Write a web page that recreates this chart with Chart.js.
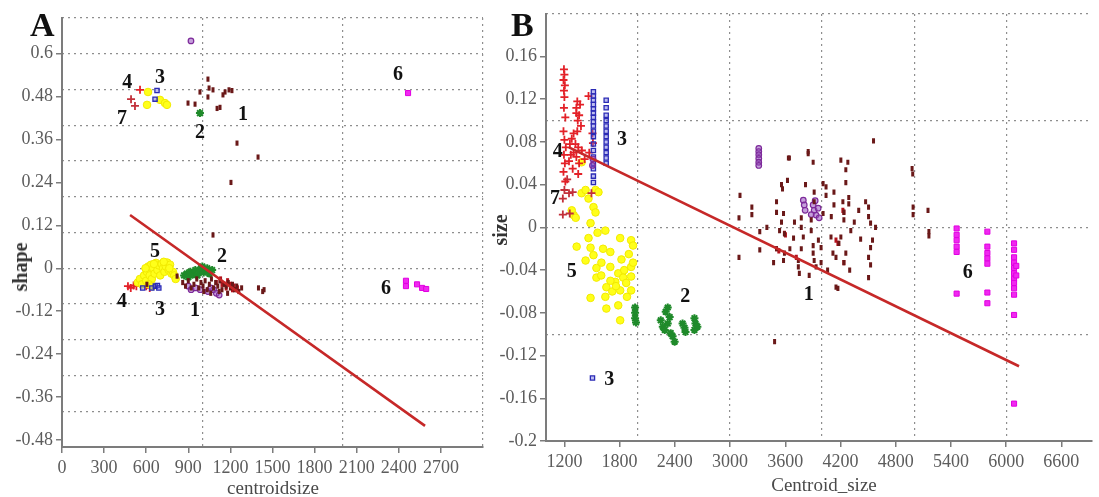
<!DOCTYPE html>
<html>
<head>
<meta charset="utf-8">
<script src="https://cdn.jsdelivr.net/npm/chart.js@4.4.1/dist/chart.umd.min.js"></script>
<style>
  html, body { margin: 0; padding: 0; background: #fff; width: 1099px; height: 497px; overflow: hidden; }
  #wrap { position: relative; width: 1099px; height: 497px; }
  canvas { position: absolute; top: 0; }
  #cA { left: 0; }
  #cB { left: 490px; }
  .t { position: absolute; font-family: "Liberation Serif", "Times New Roman", serif; white-space: nowrap; line-height: 1; }
  .panel { font-weight: bold; font-size: 34px; color: #111; }
  .xt { font-size: 19px; color: #4a4a4a; transform: translate(-50%, -50%); }
  .yt { font-size: 20px; font-weight: bold; color: #333; transform: translate(-50%, -50%) rotate(-90deg); }
</style>
</head>
<body>
<div id="wrap">
  <canvas id="cA" width="490" height="497"></canvas>
  <canvas id="cB" width="609" height="497"></canvas>
  <div class="t panel" style="left:30px;top:8px;">A</div>
  <div class="t panel" style="left:511px;top:8px;">B</div>
  <div class="t yt" style="left:20px;top:267px;">shape</div>
  <div class="t xt" style="left:273px;top:487px;">centroidsize</div>
  <div class="t yt" style="left:500px;top:230px;">size</div>
  <div class="t xt" style="left:824px;top:484px;">Centroid_size</div>
</div>
<script>
// ---------- Panel A: shape vs centroid size ----------
const A_TICKS_X = [0, 300, 600, 900, 1200, 1500, 1800, 2100, 2400, 2700];
const A_TICKS_Y = [-0.48, -0.36, -0.24, -0.12, 0, 0.12, 0.24, 0.36, 0.48, 0.6];
const A_GRID_X = [1000, 2000, 3000];
const A_GRID_Y = [-0.5, -0.4, -0.3, -0.2, -0.1, 0, 0.1, 0.2, 0.3, 0.4, 0.5, 0.6, 0.7];

const A_G1 = [
  [898,0.462],[948,0.459],[983,0.493],[1040,0.529],[1048,0.504],[1040,0.479],[1076,0.499],
  [1105,0.447],[1126,0.45],[1147,0.485],[1162,0.493],[1190,0.499],[1211,0.497],[1247,0.35],
  [1397,0.311],[1204,0.24],[1076,0.093],
  [860,-0.04],[880,-0.05],[900,-0.035],[920,-0.055],[940,-0.045],[960,-0.03],[975,-0.055],
  [990,-0.04],[1005,-0.05],[1020,-0.035],[1035,-0.06],[1050,-0.045],[1065,-0.03],[1080,-0.055],
  [1095,-0.04],[1110,-0.05],[1125,-0.035],[1140,-0.06],[1155,-0.045],[1170,-0.05],[1185,-0.04],
  [1200,-0.055],[1215,-0.045],[1230,-0.06],[1245,-0.05],[1260,-0.065],[1280,-0.055],[1010,-0.065],
  [1060,-0.07],[1120,-0.065],[1180,-0.07],[1400,-0.055],[1430,-0.065],[1440,-0.06],[820,-0.022],[605,-0.045]
];
const A_G1_RED = [[1100,-0.04],[1140,-0.045],[1170,-0.055],[1200,-0.045],[1225,-0.05],[1250,-0.055],[1130,-0.03],[1180,-0.035],[1215,-0.06]];
const A_G1_PURPLE = [[919,0.636],[900,-0.05],[920,-0.06],[950,-0.055],[985,-0.06],[1040,-0.065],[1080,-0.06],[1100,-0.07],[1120,-0.075],[1060,-0.055]];
const A_G2 = [[983,0.434],[870,-0.02],[890,-0.015],[900,-0.025],[915,-0.01],[930,-0.018],[950,-0.005],[965,-0.02],[980,-0.01],[990,0.0],[1000,0.005],[1010,-0.012],[1025,-0.005],[1035,0.0],[1050,-0.015],[1070,-0.005]];
const A_G3 = [[677,0.497],[663,0.473],[640,-0.055],[665,-0.05],[680,-0.048],[690,-0.055],[575,-0.055]];
const A_G4 = [[556,0.499],[470,-0.05],[490,-0.055],[510,-0.048],[530,-0.05],[560,-0.045],[600,-0.05],[625,-0.055]];
const A_G5 = [
  [613,0.493],[606,0.457],[698,0.471],[734,0.462],[748,0.457],
  [540,-0.04],[555,-0.03],[570,-0.045],[585,-0.02],[600,-0.035],[605,-0.01],[615,0.005],[625,-0.02],
  [635,0.01],[640,-0.03],[650,0.0],[660,-0.015],[670,0.015],[680,-0.005],[690,0.008],[700,-0.02],
  [710,0.012],[720,0.0],[730,-0.01],[740,0.005],[750,0.016],[760,-0.005],[770,0.01],[780,-0.015],
  [790,-0.01],[800,-0.02],[620,-0.045],[645,-0.05],[595,0.0],[655,0.012],[725,0.018],[765,0.0],[810,-0.03]
];
const A_G6 = [[2466,0.49],[2451,-0.035],[2451,-0.05],[2530,-0.045],[2566,-0.055],[2595,-0.058]];
const A_G7 = [[492,0.473],[520,0.454]];
const A_FIT = [[485,0.149],[2587,-0.441]];
const A_NOTES = [['4',465,0.52],['3',698,0.532],['7',428,0.418],['2',983,0.378],['1',1290,0.429],['6',2394,0.54],
                 ['5',663,0.045],['2',1140,0.031],['4',428,-0.094],['3',698,-0.117],['1',948,-0.12],['6',2309,-0.058]];

// ---------- Panel B: size vs centroid size ----------
const B_TICKS_X = [1200, 1800, 2400, 3000, 3600, 4200, 4800, 5400, 6000, 6600];
const B_TICKS_Y = [-0.2, -0.16, -0.12, -0.08, -0.04, 0, 0.04, 0.08, 0.12, 0.16];
const B_GRID_X = [1000, 2000, 3000, 4000, 5000, 6000];
const B_GRID_Y = [-0.2, -0.1, 0, 0.1, 0.2];

const B_G1 = [
  [3108,0.030],[3097,0.009],[3097,-0.028],[3237,0.019],[3237,0.012],[3323,-0.004],[3323,-0.021],[3473,-0.033],
  [3505,0.024],[3505,0.014],[3484,-0.107],[3559,0.040],[3570,0.036],[3624,0.044],[3634,0.065],[3581,0.013],
  [3559,0.005],[3538,-0.003],[3591,-0.006],[3505,-0.020],[3591,-0.024],[3581,-0.031],[3742,-0.031],[3742,-0.037],
  [3753,-0.043],[3774,0.009],[3774,0.000],[3796,-0.009],[3774,-0.020],[3849,0.069],[3903,0.061],[3882,0.007],
  [3882,-0.003],[3903,-0.017],[3903,-0.024],[3914,-0.031],[3935,-0.037],[3914,0.033],[3914,0.024],[3989,-0.019],
  [3989,-0.033],[4011,0.041],[4011,0.013],[4043,0.038],[4043,0.030],[4097,-0.009],[4129,0.033],[4129,0.021],
  [4118,-0.024],[4151,-0.028],[4151,-0.056],[4204,0.063],[4280,0.061],[4258,0.042],[4258,0.054],[4226,0.024],
  [4237,0.014],[4237,0.007],[4204,-0.009],[4183,-0.015],[4258,-0.024],[4237,-0.033],[4290,0.028],[4290,0.022],
  [4312,-0.003],[4398,0.016],[4419,-0.011],[4473,0.024],[4505,0.019],[4505,0.010],[4527,0.004],[4548,-0.012],
  [4527,-0.019],[4505,-0.028],[4527,-0.035],[4505,-0.047],[4581,0.000],[4559,0.081],[4172,-0.057],[4978,0.055],
  [4985,0.050],[4989,0.019],[4989,0.012],[5151,0.016],[5161,-0.004],[5161,-0.008],[3645,0.065],[3849,0.071],
  [3690,-0.010],[3700,0.005],[3820,0.040],[3860,-0.045],[4060,-0.040],[4100,0.010],[3960,-0.012],[4300,-0.040],
  [4350,0.005],[3650,-0.020],[3400,0.000]
];
const B_G1_RED = [[3591,-0.0055],[3602,-0.007],[4237,0.0143],[4226,0.016],[4151,-0.012],[4172,-0.015],[3505,-0.02],[3530,-0.022],[4237,-0.033],[3720,-0.028]];
const B_G1_PURPLE = [[3312,0.074],[3312,0.071],[3312,0.068],[3312,0.0645],[3312,0.061],[3312,0.058],
  [3796,0.0255],[3806,0.021],[3816,0.016],[3903,0.021],[3914,0.016],[3935,0.0115],[3882,0.012],[3957,0.018],[3968,0.009],[3925,0.025],
  [1505,0.058],[1510,0.064]];
const B_G2 = [[1968,-0.075],[1968,-0.080],[1968,-0.085],[1978,-0.089],[2247,-0.087],[2269,-0.093],[2290,-0.096],
  [2301,-0.079],[2323,-0.075],[2344,-0.084],[2323,-0.090],[2376,-0.102],[2398,-0.107],[2355,-0.099],[2505,-0.094],
  [2484,-0.090],[2516,-0.098],[2613,-0.085],[2624,-0.090],[2613,-0.096],[2645,-0.093]];
const B_G3 = [
  [1515,0.127],[1515,0.123],[1515,0.119],[1515,0.115],[1515,0.111],[1515,0.107],[1515,0.103],[1515,0.099],
  [1515,0.095],[1515,0.090],[1515,0.085],[1515,0.078],[1515,0.072],[1515,0.066],[1515,0.060],[1515,0.055],
  [1515,0.048],[1515,0.042],
  [1654,0.119],[1654,0.112],[1654,0.105],[1654,0.100],[1654,0.095],[1654,0.090],[1654,0.085],[1654,0.080],
  [1654,0.075],[1654,0.070],[1654,0.065],[1654,0.060],
  [1505,-0.141]
];
const B_G4 = [
  [1195,0.148],[1200,0.143],[1190,0.138],[1205,0.133],[1195,0.128],[1200,0.122],[1195,0.112],[1210,0.103],
  [1190,0.090],[1200,0.082],[1215,0.075],[1195,0.068],[1205,0.060],[1190,0.052],[1210,0.043],
  [1340,0.118],[1330,0.112],[1360,0.105],[1345,0.100],[1380,0.095],[1340,0.090],[1300,0.088],[1280,0.083],
  [1260,0.078],[1320,0.078],[1350,0.075],[1390,0.072],[1300,0.070],[1270,0.068],[1330,0.066],[1250,0.062],
  [1360,0.060],[1420,0.064],[1290,0.055],[1350,0.050],[1330,0.107],[1370,0.115],
  [1505,0.088],[1510,0.079],[1470,0.070],[1462,0.123]
];
const B_G5 = [
  [1301,0.0115],[1323,0.009],[1280,0.016],[1387,0.032],[1516,0.019],[1538,0.014],[1484,0.004],[1645,-0.003],
  [1333,-0.018],[1462,-0.010],[1484,-0.019],[1516,-0.026],[1699,-0.023],[1806,-0.010],[1925,-0.012],[1430,-0.031],
  [1548,-0.038],[1602,-0.033],[1699,-0.037],[1785,-0.043],[1839,-0.047],[1753,-0.051],[1871,-0.052],[1925,-0.046],
  [1925,-0.059],[1806,-0.059],[1656,-0.056],[1484,-0.066],[1645,-0.065],[1656,-0.076],[1785,-0.073],[1806,-0.087],
  [1925,-0.037],[1820,-0.030],[1548,-0.047],[1387,0.061],[1430,0.035],[1538,0.035],[1462,0.027],[1570,0.033],
  [1946,-0.033],[1946,-0.017],[1720,-0.060],[1880,-0.065],[1760,-0.055],[1600,-0.045],[1700,-0.050],[1850,-0.040],
  [1900,-0.025],[1620,-0.020],[1560,-0.005]
];
const B_G6 = [
  [5462,-0.001],[5462,-0.007],[5462,-0.012],[5462,-0.018],[5462,-0.023],[5462,-0.062],
  [5796,-0.004],[5796,-0.018],[5796,-0.024],[5796,-0.029],[5796,-0.034],[5796,-0.061],[5796,-0.071],
  [6086,-0.015],[6086,-0.021],[6086,-0.028],[6086,-0.033],[6086,-0.038],[6086,-0.043],[6086,-0.048],
  [6086,-0.052],[6086,-0.057],[6086,-0.063],[6086,-0.082],[6086,-0.165],[6110,-0.036],[6110,-0.045]
];
const B_G7 = [[1183,0.027],[1183,0.012],[1258,0.013],[1290,0.033],[1494,0.032],[1230,0.045],[1250,0.032],[1200,0.035]];
const B_FIT = [[1250,0.075],[6140,-0.130]];
const B_NOTES = [['4',1129,0.0705],['3',1826,0.0816],['7',1097,0.027],['5',1279,-0.042],
                 ['2',2513,-0.065],['3',1687,-0.143],['1',3854,-0.063],['6',5582,-0.043]];

// ---------- shared drawing helpers ----------
const SERIF = '"Liberation Serif", "Times New Roman", serif';
const pts = arr => arr.map(([x, y]) => ({ x, y }));
const fmt = v => String(Math.round(v * 100) / 100);

const STYLES = {
  g1:  { pointStyle: 'line', rotation: 90, radius: 2.6, borderWidth: 3, borderColor: '#6a1818', backgroundColor: '#6a1818' },
  g1r: { pointStyle: 'line', rotation: 90, radius: 2.6, borderWidth: 3, borderColor: '#b3121c', backgroundColor: '#b3121c' },
  g1p: { pointStyle: 'circle', radius: 2.8, borderWidth: 1.2, borderColor: '#7d2a9a', backgroundColor: 'rgba(150,80,190,0.55)' },
  g2:  { pointStyle: 'star', radius: 4, borderWidth: 2, borderColor: '#1f8a2a', backgroundColor: '#1f8a2a' },
  g3:  { pointStyle: 'rect', radius: 3, borderWidth: 1.3, borderColor: '#2b2bb5', backgroundColor: 'rgba(110,110,225,0.45)' },
  g4:  { pointStyle: 'cross', radius: 4, borderWidth: 1.8, borderColor: '#e32128', backgroundColor: '#e32128' },
  g5:  { pointStyle: 'circle', radius: 3.8, borderWidth: 1, borderColor: '#f2ea00', backgroundColor: '#ffff1a' },
  g6:  { pointStyle: 'rect', radius: 3.6, borderWidth: 1, borderColor: '#e000e0', backgroundColor: '#f028f0' },
  g7:  { pointStyle: 'cross', radius: 4, borderWidth: 1.8, borderColor: '#c2303a', backgroundColor: '#c2303a' }
};

function scatterSet(name, data, key) {
  const s = STYLES[key];
  return {
    type: 'scatter', label: name, data: pts(data), order: 2,
    pointStyle: s.pointStyle, pointRotation: s.rotation || 0, pointRadius: s.radius,
    pointBorderWidth: s.borderWidth, pointBorderColor: s.borderColor, pointBackgroundColor: s.backgroundColor,
    borderColor: s.borderColor, backgroundColor: s.backgroundColor
  };
}

function fitLine(data) {
  return { type: 'line', label: 'fit', data: pts(data), order: 0, borderColor: '#c62828',
           borderWidth: 2.6, pointRadius: 0, fill: false, tension: 0 };
}

const setTicks = values => scale => { scale.ticks = values.map(v => ({ value: v })); };

function buildScales(o) {
  const tickFont = { family: SERIF, size: 18 };
  const main = (pos, ticks, fit) => ({
    type: 'linear', position: pos,
    afterBuildTicks: setTicks(ticks), afterFit: fit,
    grid: { drawOnChartArea: false, drawTicks: true, tickLength: 6, color: '#7c7c7c', lineWidth: 1.5 },
    border: { color: '#7c7c7c', width: 2 },
    ticks: { font: tickFont, color: '#5c5c5c', padding: pos === 'left' ? 3 : 4, autoSkip: false, maxRotation: 0, callback: fmt }
  });
  const dotted = (pos, ticks, fit) => ({
    type: 'linear', position: pos,
    afterBuildTicks: setTicks(ticks), afterFit: fit,
    ticks: { display: false },
    grid: { drawTicks: false, color: '#8e8e8e', lineWidth: 1.2 },
    border: { display: false, dash: [2, 4] }
  });
  return {
    x:  Object.assign(main('bottom', o.xTicks, s => { s.height = o.xAxisH; }), { min: o.xMin, max: o.xMax }),
    y:  Object.assign(main('left', o.yTicks, s => { s.width = o.yAxisW; }), { min: o.yMin, max: o.yMax }),
    xg: Object.assign(dotted('top', o.xGrid, s => { s.height = 0; }), { min: o.xMin, max: o.xMax }),
    yg: Object.assign(dotted('right', o.yGrid, s => { s.width = 0; }), { min: o.yMin, max: o.yMax })
  };
}

// cluster numbers placed at data coordinates
const clusterNotes = {
  id: 'clusterNotes',
  afterDatasetsDraw(chart, args, opts) {
    const { ctx, scales } = chart;
    ctx.save();
    ctx.font = 'bold 20px ' + SERIF;
    ctx.fillStyle = '#111';
    ctx.textAlign = 'center';
    ctx.textBaseline = 'middle';
    (opts.items || []).forEach(([txt, x, y]) => {
      ctx.fillText(txt, scales.x.getPixelForValue(x), scales.y.getPixelForValue(y));
    });
    ctx.restore();
  }
};

function makePanel(canvasId, groups, fit, notes, o) {
  const datasets = [fitLine(fit)].concat(groups.map(([name, data, key]) => scatterSet(name, data, key)));
  return new Chart(document.getElementById(canvasId), {
    data: { datasets },
    options: {
      responsive: false, animation: false, devicePixelRatio: 1,
      layout: { padding: o.padding },
      plugins: { legend: { display: false }, tooltip: { enabled: false }, clusterNotes: { items: notes } },
      scales: buildScales(o)
    },
    plugins: [clusterNotes]
  });
}

makePanel('cA', [
  ['1', A_G1, 'g1'], ['1', A_G1_RED, 'g1r'], ['1', A_G1_PURPLE, 'g1p'], ['2', A_G2, 'g2'],
  ['3', A_G3, 'g3'], ['5', A_G5, 'g5'], ['4', A_G4, 'g4'], ['6', A_G6, 'g6'], ['7', A_G7, 'g7']
], A_FIT, A_NOTES, {
  xMin: 0, xMax: 3000, yMin: -0.5, yMax: 0.7,
  xTicks: A_TICKS_X, yTicks: A_TICKS_Y, xGrid: A_GRID_X, yGrid: A_GRID_Y,
  xAxisH: 50, yAxisW: 62, padding: { left: 0, top: 18, right: 7, bottom: 0 }
});

makePanel('cB', [
  ['1', B_G1, 'g1'], ['1', B_G1_RED, 'g1r'], ['1', B_G1_PURPLE, 'g1p'], ['2', B_G2, 'g2'],
  ['3', B_G3, 'g3'], ['4', B_G4, 'g4'], ['7', B_G7, 'g7'], ['5', B_G5, 'g5'], ['6', B_G6, 'g6']
], B_FIT, B_NOTES, {
  xMin: 1000, xMax: 6933, yMin: -0.2, yMax: 0.2,
  xTicks: B_TICKS_X, yTicks: B_TICKS_Y, xGrid: B_GRID_X, yGrid: B_GRID_Y,
  xAxisH: 56, yAxisW: 56, padding: { left: 0, top: 13, right: 0, bottom: 0 }
});
</script>
</body>
</html>
